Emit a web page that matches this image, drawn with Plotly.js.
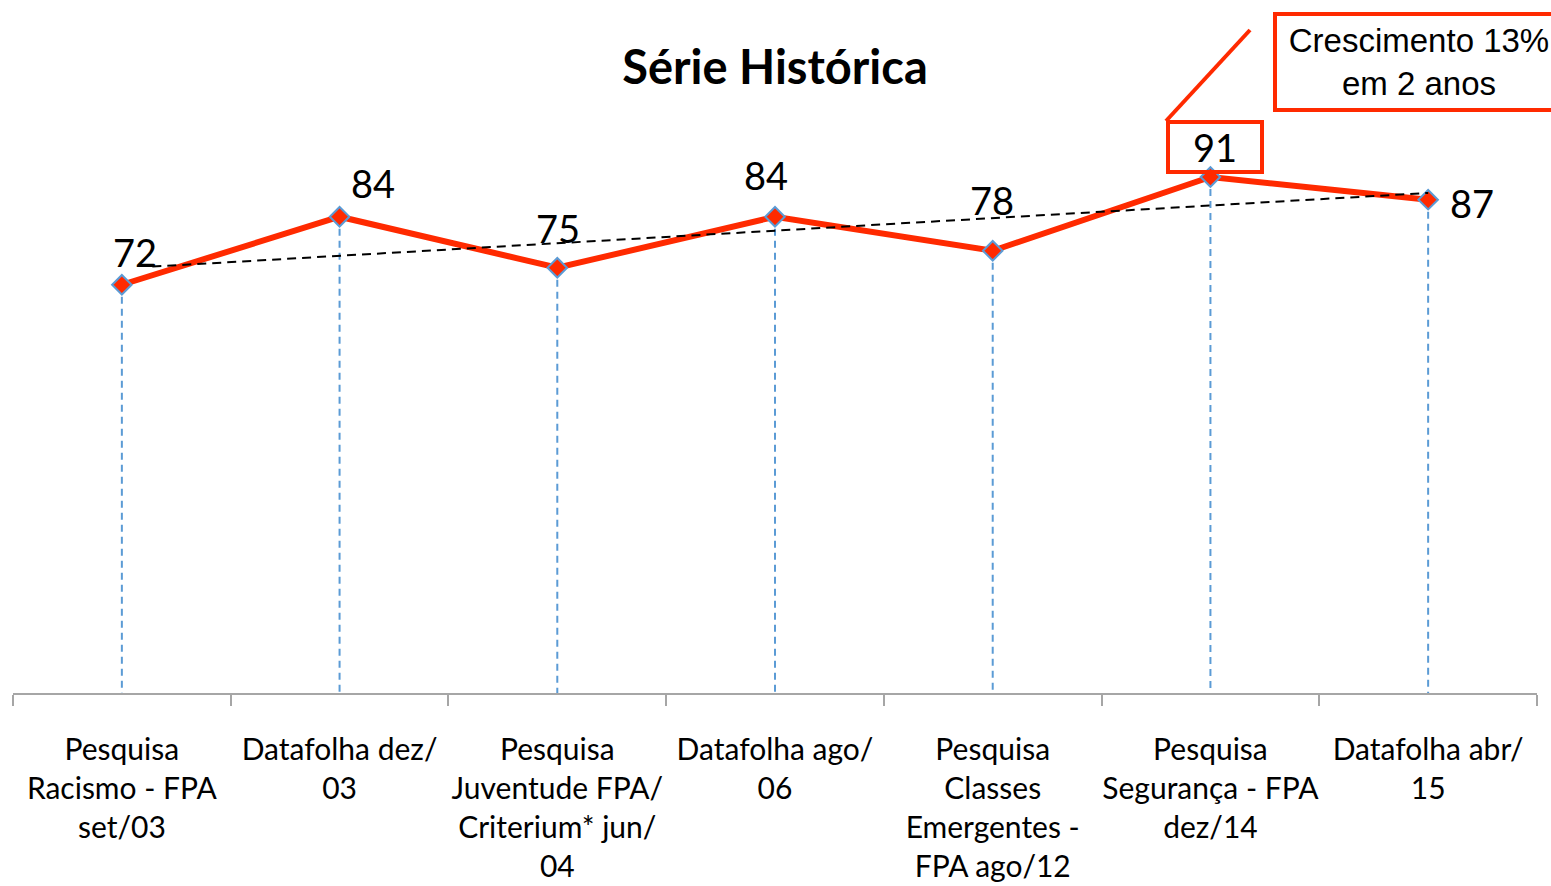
<!DOCTYPE html>
<html>
<head>
<meta charset="utf-8">
<script src="https://cdn.plot.ly/plotly-3.0.1.min.js"></script>
<style>html,body{margin:0;padding:0;background:#fff;}#chart{width:1551px;height:886px;}</style>
</head>
<body>
<div id="chart"></div>
<script>
// ---- data ----
const categories = [
  "Pesquisa<br>Racismo - FPA<br>set/03",
  "Datafolha dez/<br>03",
  "Pesquisa<br>Juventude FPA/<br>Criterium* jun/<br>04",
  "Datafolha ago/<br>06",
  "Pesquisa<br>Classes<br>Emergentes -<br>FPA ago/12",
  "Pesquisa<br>Segurança - FPA<br>dez/14",
  "Datafolha abr/<br>15"
];
const values = [72, 84, 75, 84, 78, 91, 87];
const trendX = [0.14, 6];
const trendY = [75.2, 88.2];
const calloutText = "Crescimento 13%<br>em 2 anos";

// ---- styling (label offsets in px) ----
const labelShift = [[13, 33], [33, 34], [1, 40], [-9, 42], [-1, 51], [5, 30], [44, -3]];

const RED = "#FF2A00";
const BLUE = "#5B9BD5";

// drop lines built from the data
const dropX = [], dropY = [];
categories.forEach((c, i) => { dropX.push(c, c, null); dropY.push(values[i], 0, null); });

const traces = [
  { x: dropX, y: dropY, type: "scatter", mode: "lines", hoverinfo: "skip",
    line: { color: BLUE, width: 2, dash: "7px,5px" }, showlegend: false },
  { x: trendX, y: trendY, xaxis: "x2", type: "scatter", mode: "lines",
    line: { color: "#000", width: 2, dash: "9px,6px" }, showlegend: false },
  { x: categories, y: values, type: "scatter", mode: "lines+markers",
    line: { color: RED, width: 6 },
    marker: { symbol: "diamond", size: 15, color: RED, line: { color: BLUE, width: 2 } },
    showlegend: false }
];

const annotations = values.map((v, i) => ({
  x: categories[i], y: v, xref: "x", yref: "y", text: String(v), showarrow: false,
  xshift: labelShift[i][0], yshift: labelShift[i][1],
  font: { family: "Lato", size: 38, color: "#000" },
  ...(i === 5 ? { bordercolor: RED, borderwidth: 4, borderpad: 0, width: 90, height: 46 } : {})
}));

// pixel -> paper helpers for decorative callout
const L = 13, R = 14, T = 126, B = 193, W = 1551, H = 886;
const px = p => (p - L) / (W - L - R);
const py = p => (H - B - p) / (H - T - B);

annotations.push({
  xref: "paper", yref: "paper", x: px(1273), y: py(12), xanchor: "left", yanchor: "top",
  text: calloutText, showarrow: false, align: "center",
  font: { family: "Liberation Sans, Arial", size: 33, color: "#000" },
  bordercolor: RED, borderwidth: 4, borderpad: 2, width: 280, height: 88,
  bgcolor: "#fff"
});

const layout = {
  width: W, height: H,
  margin: { l: L, r: R, t: T, b: B },
  paper_bgcolor: "#fff", plot_bgcolor: "#fff",
  title: { text: "<b>Série Histórica</b>", x: 0.5, xref: "paper", y: 1 - 68 / H, yanchor: "middle",
           font: { family: "Lato", size: 47, color: "#000" } },
  xaxis: {
    type: "category", tickson: "boundaries", ticks: "outside", ticklen: 11, tickwidth: 2,
    tickcolor: "#A6A6A6", showline: true, linecolor: "#A6A6A6", linewidth: 2,
    showgrid: false, zeroline: false, ticklabelstandoff: 29, tickangle: 0, automargin: false,
    tickfont: { family: "Lato", size: 30, color: "#000" }, range: [-0.5, 6.5]
  },
  xaxis2: { overlaying: "x", range: [-0.5, 6.5], visible: false },
  yaxis: { range: [0, 100], visible: false, showgrid: false, zeroline: false },
  annotations: annotations,
  shapes: [
    { type: "line", xref: "paper", yref: "paper", x0: px(1166), y0: py(121), x1: px(1250), y1: py(30),
      line: { color: RED, width: 4 } }
  ]
};

Plotly.newPlot("chart", traces, layout, { displayModeBar: false, staticPlot: true });
</script>
</body>
</html>
